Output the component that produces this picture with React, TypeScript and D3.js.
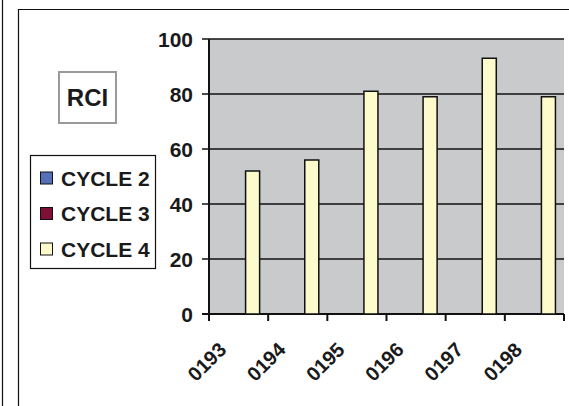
import * as d3 from 'd3';

const categories = ["0193", "0194", "0195", "0196", "0197", "0198"];
const seriesNames = ["CYCLE 2", "CYCLE 3", "CYCLE 4"];
const seriesColors = ["#5570B8", "#7E1038", "#FDFBCC"];
const cycle2: (number | null)[] = [null, null, null, null, null, null];
const cycle3: (number | null)[] = [null, null, null, null, null, null];
const cycle4: (number | null)[] = [52, 56, 81, 79, 93, 79];
const yTicks = [0, 20, 40, 60, 80, 100];

const W = 569;
const H = 406;
const font = '"Liberation Sans", Arial, sans-serif';

const App = () => {
    const plotLeft = 209, plotRight = 564, plotTop = 39, plotBottom = 314;

    const xScale = d3.scaleBand<string>()
        .domain(categories)
        .range([plotLeft, plotRight])
        .paddingInner(0)
        .paddingOuter(0);

    const xInner = d3.scaleBand<string>()
        .domain(seriesNames)
        .range([0, xScale.bandwidth()])
        .paddingInner(0)
        .paddingOuter(0.61);

    const yScale = d3.scaleLinear()
        .domain([0, 100])
        .range([plotBottom, plotTop]);

    const allSeries = [cycle2, cycle3, cycle4];

    return (
        <svg width={W} height={H} style={{ position: 'absolute', left: 0, top: 0 }}>
            <rect x={0} y={0} width={W} height={H} fill="#fff" />
            {/* frames */}
            <line x1={2.5} y1={0} x2={2.5} y2={H} stroke="#111" strokeWidth={1.2} />
            <path d={`M18.5,${H} V9.5 H${W}`} fill="none" stroke="#111" strokeWidth={1.2} />

            {/* plot area */}
            <rect x={plotLeft} y={plotTop} width={plotRight - plotLeft} height={plotBottom - plotTop} fill="#C9CACC" />
            {yTicks.map(t => (
                <g key={t}>
                    <line x1={plotLeft - 7} x2={plotRight} y1={yScale(t)} y2={yScale(t)} stroke="#111" strokeWidth={t === 0 ? 2 : 1.6} />
                    <text x={193} y={yScale(t)} dy="0.36em" textAnchor="end" fontFamily={font} fontWeight="bold" fontSize={21} fill="#1a1a1a">{t}</text>
                </g>
            ))}
            <line x1={plotLeft} x2={plotLeft} y1={plotTop} y2={plotBottom} stroke="#111" strokeWidth={2} />

            {/* bars */}
            {allSeries.map((vals, si) => vals.map((v, ci) => v == null ? null : (
                <rect key={`${si}-${ci}`}
                    x={(xScale(categories[ci]) ?? 0) + (xInner(seriesNames[si]) ?? 0)}
                    y={yScale(v)}
                    width={xInner.bandwidth()}
                    height={yScale(0) - yScale(v)}
                    fill={seriesColors[si]} stroke="#111" strokeWidth={1.5} />
            )))}

            {/* x ticks */}
            {[...categories.map(c => xScale(c) ?? 0), plotRight].map((x, i) => (
                <line key={i} x1={x} x2={x} y1={plotBottom} y2={plotBottom + 7} stroke="#111" strokeWidth={2} />
            ))}
            {categories.map(c => {
                const cx = (xScale(c) ?? 0) + xScale.bandwidth() / 2 - 11;
                const cy = 351;
                return (
                    <text key={c} x={cx} y={cy} textAnchor="end" transform={`rotate(-45, ${cx}, ${cy})`}
                        fontFamily={font} fontWeight="bold" fontSize={20} fill="#1a1a1a">{c}</text>
                );
            })}

            {/* RCI title box */}
            <rect x={59} y={72} width={57} height={51} fill="#fff" stroke="#9a9a9a" strokeWidth={2} />
            <text x={87.5} y={97.5} dy="0.36em" textAnchor="middle" fontFamily={font} fontWeight="bold" fontSize={24} fill="#1a1a1a">RCI</text>

            {/* legend */}
            <rect x={30.5} y={155.5} width={125} height={113} fill="#fff" stroke="#111" strokeWidth={1.2} />
            {seriesNames.map((s, i) => {
                const cy = 178 + i * 35.5;
                return (
                    <g key={s}>
                        <rect x={40.5} y={cy - 6} width={12} height={12} fill={seriesColors[i]} stroke="#111" strokeWidth={1} />
                        <text x={61} y={cy} dy="0.36em" fontFamily={font} fontWeight="bold" fontSize={21} fill="#1a1a1a">{s}</text>
                    </g>
                );
            })}
        </svg>
    );
};

export default App;
